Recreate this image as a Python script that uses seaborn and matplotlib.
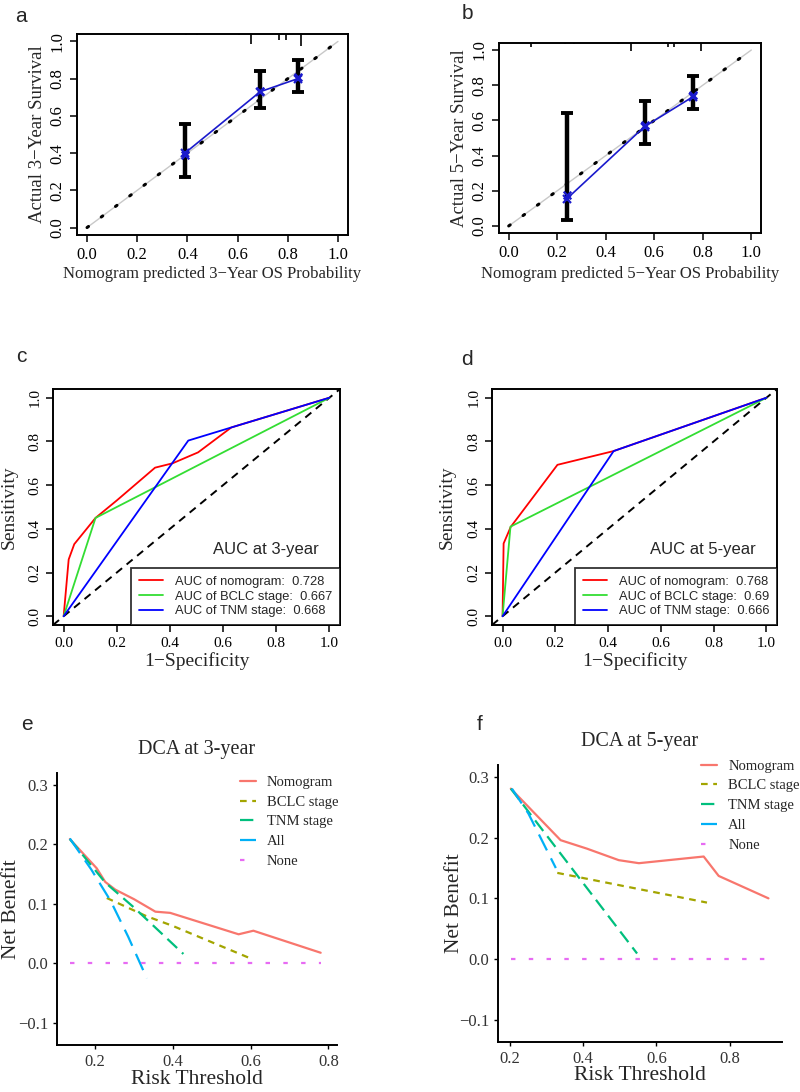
import matplotlib
matplotlib.use("Agg")
import matplotlib.pyplot as plt
import seaborn as sns

# ---- calibration curves (a: 3-year, b: 5-year)
cal3_pred = [0.39, 0.69, 0.84]
cal3_obs = [0.40, 0.73, 0.80]
cal3_corr = [0.39, 0.735, 0.81]
cal3_lo = [0.27, 0.64, 0.73]
cal3_hi = [0.555, 0.84, 0.90]
cal3_rug_x = [0.394, 0.44, 0.605, 0.653, 0.765, 0.793, 0.853]
cal3_rug_h = [0.008, 0.008, 0.008, 0.054, 0.032, 0.032, 0.065]

cal5_pred = [0.24, 0.56, 0.76]
cal5_obs = [0.155, 0.565, 0.735]
cal5_corr = [0.175, 0.575, 0.745]
cal5_lo = [0.035, 0.465, 0.665]
cal5_hi = [0.64, 0.71, 0.855]
cal5_rug_x = [0.09, 0.23, 0.27, 0.45, 0.506, 0.658, 0.683, 0.794]
cal5_rug_h = [0.023, 0.008, 0.008, 0.008, 0.045, 0.025, 0.025, 0.047]

# ---- ROC curves (c: 3-year, d: 5-year)
roc3_nom_fpr = [0, 0.019, 0.04, 0.12, 0.2, 0.344, 0.41, 0.506, 0.631, 1.0]
roc3_nom_tpr = [0, 0.26, 0.33, 0.45, 0.53, 0.68, 0.70, 0.75, 0.864, 1.0]
roc3_bclc_fpr = [0, 0.12, 1.0]
roc3_bclc_tpr = [0, 0.45, 1.0]
roc3_tnm_fpr = [0, 0.469, 0.631, 1.0]
roc3_tnm_tpr = [0, 0.804, 0.864, 1.0]
roc3_auc = ["0.728", "0.667", "0.668"]

roc5_nom_fpr = [0, 0.004, 0.031, 0.208, 0.421, 1.0]
roc5_nom_tpr = [0, 0.333, 0.409, 0.693, 0.756, 1.0]
roc5_bclc_fpr = [0, 0.03, 1.0]
roc5_bclc_tpr = [0, 0.41, 1.0]
roc5_tnm_fpr = [0, 0.421, 1.0]
roc5_tnm_tpr = [0, 0.756, 1.0]
roc5_auc = ["0.768", "0.69", "0.666"]

# ---- decision curves (e: 3-year, f: 5-year)
dca3_nom_x = [0.135, 0.204, 0.226, 0.252, 0.30, 0.355, 0.393, 0.569, 0.607, 0.78]
dca3_nom_y = [0.209, 0.160, 0.137, 0.124, 0.108, 0.087, 0.085, 0.049, 0.055, 0.018]
dca3_bclc_x = [0.23, 0.33, 0.40, 0.594]
dca3_bclc_y = [0.11, 0.08, 0.063, 0.01]
dca3_tnm_x = [0.135, 0.226, 0.30, 0.427]
dca3_tnm_y = [0.209, 0.136, 0.094, 0.016]
dca3_all_x = [0.135, 0.19, 0.24, 0.285, 0.333]
dca3_all_y = [0.21, 0.158, 0.105, 0.045, -0.025]
dca3_none_x = [0.135, 0.78]
dca3_none_y = [0.0, 0.0]

dca5_nom_x = [0.202, 0.338, 0.41, 0.497, 0.552, 0.729, 0.77, 0.906]
dca5_nom_y = [0.281, 0.196, 0.182, 0.163, 0.158, 0.169, 0.137, 0.100]
dca5_bclc_x = [0.329, 0.738]
dca5_bclc_y = [0.142, 0.093]
dca5_tnm_x = [0.202, 0.547]
dca5_tnm_y = [0.281, 0.009]
dca5_all_x = [0.205, 0.25, 0.30, 0.325]
dca5_all_y = [0.281, 0.24, 0.18, 0.15]
dca5_none_x = [0.202, 0.906]
dca5_none_y = [0.0, 0.0]

dca_labels = ["Nomogram", "BCLC stage", "TNM stage", "All", "None"]
dca_colors = ["#F8766D", "#A3A500", "#00BF7D", "#00B0F6", "#E76BF3"]
dca_styles = ["-", (0, (3, 2.5)), (0, (6, 3)), (0, (8, 4)), (0, (2, 6))]

roc_labels = ["AUC of nomogram", "AUC of BCLC stage", "AUC of TNM stage"]
roc_colors = ["#FF0000", "#33DD33", "#0000FF"]

sns.set_theme(style="ticks")
SERIF = ["Liberation Serif", "DejaVu Serif"]
SANS = ["Liberation Sans", "DejaVu Sans"]
plt.rcParams["font.family"] = SERIF
plt.rcParams["axes.linewidth"] = 1.4
plt.rcParams["axes.edgecolor"] = "black"

W, H = 800, 1092
fig = plt.figure(figsize=(8, 10.92), dpi=100)


def box(l, t, r, b):
    return fig.add_axes([l / W, 1 - b / H, (r - l) / W, (b - t) / H])


def fmt_ticks(ax, size):
    ax.tick_params(direction="out", length=5, width=1.1, labelsize=size, colors="black")
    for lab in ax.get_yticklabels():
        lab.set_rotation(90)
        lab.set_va("center")


def calib(ax, pred, obs, corr, lo, hi, rug_x, rug_h, yr, xl, yl):
    ax.plot([0, 1], [0, 1], color="#C8C8C8", lw=1.0)
    ax.plot([0, 1], [0, 1], color="black", lw=2.2, ls=(0, (0.6, 5.2)), dash_capstyle="round")
    ax.errorbar(pred, obs, yerr=[[o - l for o, l in zip(obs, lo)], [h - o for o, h in zip(obs, hi)]],
                fmt="none", ecolor="black", elinewidth=3.2, capsize=4, capthick=2.8)
    sns.lineplot(x=pred, y=obs, ax=ax, color="#1A1ACC", lw=1.2, marker="x", markersize=6,
                 markeredgewidth=1.6, markeredgecolor="#1A1ACC")
    ax.scatter(pred, corr, marker="x", s=30, color="#1A1ACC", lw=1.6, zorder=5)
    ax.vlines(rug_x, [1.04 - h for h in rug_h], 1.04, color="black", lw=1.2)
    ax.set_xlim(-0.04, 1.04)
    ax.set_ylim(-0.04, 1.04)
    ticks = [0, 0.2, 0.4, 0.6, 0.8, 1.0]
    ax.set_xticks(ticks, [f"{t:.1f}" for t in ticks])
    ax.set_yticks(ticks, [f"{t:.1f}" for t in ticks])
    fmt_ticks(ax, 12)
    ax.set_xlabel(f"Nomogram predicted {yr}\u2212Year OS Probability", fontsize=12)
    ax.set_ylabel(f"Actual {yr}\u2212Year Survival", fontsize=13.5)
    ax.xaxis.set_label_coords(0.5, xl)
    ax.yaxis.set_label_coords(yl, 0.5)


def roc(ax, curves, aucs, yr, yl):
    ax.axline((0, 0), (1, 1), color="black", lw=1.4, ls=(0, (4, 3)))
    for (fx, ty), lab, col, auc in zip(curves, roc_labels, roc_colors, aucs):
        sns.lineplot(x=fx, y=ty, ax=ax, color=col, lw=1.3, sort=False, estimator=None,
                     label=f"{lab}:  {auc}")
    ax.set_xlim(-0.04, 1.04)
    ax.set_ylim(-0.04, 1.04)
    ticks = [0, 0.2, 0.4, 0.6, 0.8, 1.0]
    ax.set_xticks(ticks, [f"{t:.1f}" for t in ticks])
    ax.set_yticks(ticks, [f"{t:.1f}" for t in ticks])
    fmt_ticks(ax, 11)
    ax.set_xlabel("1\u2212Specificity", fontsize=14)
    ax.set_ylabel("Sensitivity", fontsize=14)
    ax.xaxis.set_label_coords(0.5, -0.115)
    ax.yaxis.set_label_coords(yl, 0.5)
    leg = ax.legend(loc="lower right", borderaxespad=0, frameon=True, fancybox=False,
                    edgecolor="black", prop={"family": SANS, "size": 9.3}, handlelength=1.9,
                    handletextpad=0.9, labelspacing=0.2, borderpad=0.6)
    leg.get_frame().set_linewidth(1.3)
    ax.text(0.74, 0.32, f"AUC at {yr}-year", transform=ax.transAxes, ha="center", va="center",
            family=SANS, fontsize=12)


def dca(ax, series, xlim, yr, leg_anchor, xl, yl):
    for (xs, ys), lab, col, ls in zip(series, dca_labels, dca_colors, dca_styles):
        sns.lineplot(x=xs, y=ys, ax=ax, color=col, lw=1.6, linestyle=ls, sort=False,
                     estimator=None, label=lab)
    sns.despine(ax=ax)
    ax.set_xlim(*xlim)
    ax.set_ylim(-0.137, 0.32)
    xticks = [0.2, 0.4, 0.6, 0.8]
    ax.set_xticks(xticks, [f"{t:.1f}" for t in xticks])
    ax.set_yticks([-0.1, 0.0, 0.1, 0.2, 0.3], ["\u22120.1", "0.0", "0.1", "0.2", "0.3"])
    ax.tick_params(direction="out", length=3, width=1, labelsize=12, colors="black")
    ax.tick_params(labelcolor="#333333")
    ax.set_xlabel("Risk Threshold", fontsize=15.5)
    ax.set_ylabel("Net Benefit", fontsize=15.5)
    ax.xaxis.set_label_coords(0.5, xl)
    ax.yaxis.set_label_coords(yl, 0.5)
    ax.set_title(f"DCA at {yr}-year", fontsize=14.5, pad=14)
    ax.legend(loc="upper left", bbox_to_anchor=leg_anchor, frameon=False, fontsize=10.5,
              handlelength=1.1, handletextpad=0.75, labelspacing=0.45, borderaxespad=0, borderpad=0)


ax_a = box(77, 34, 348, 235)
calib(ax_a, cal3_pred, cal3_obs, cal3_corr, cal3_lo, cal3_hi, cal3_rug_x, cal3_rug_h, 3, -0.154, -0.114)
ax_b = box(499, 43, 761, 233)
calib(ax_b, cal5_pred, cal5_obs, cal5_corr, cal5_lo, cal5_hi, cal5_rug_x, cal5_rug_h, 5, -0.174, -0.118)

ax_c = box(53, 389, 340, 625)
roc(ax_c, [(roc3_nom_fpr, roc3_nom_tpr), (roc3_bclc_fpr, roc3_bclc_tpr), (roc3_tnm_fpr, roc3_tnm_tpr)],
    roc3_auc, 3, -0.122)
ax_d = box(492, 389, 777, 625)
roc(ax_d, [(roc5_nom_fpr, roc5_nom_tpr), (roc5_bclc_fpr, roc5_bclc_tpr), (roc5_tnm_fpr, roc5_tnm_tpr)],
    roc5_auc, 5, -0.126)

ax_e = box(57, 773, 337, 1045)
dca(ax_e, [(dca3_nom_x, dca3_nom_y), (dca3_bclc_x, dca3_bclc_y), (dca3_tnm_x, dca3_tnm_y),
           (dca3_all_x, dca3_all_y), (dca3_none_x, dca3_none_y)],
    (0.102, 0.822), 3, (0.654, 0.99), -0.092, -0.13)
ax_f = box(498, 765, 782, 1042)
dca(ax_f, [(dca5_nom_x, dca5_nom_y), (dca5_bclc_x, dca5_bclc_y), (dca5_tnm_x, dca5_tnm_y),
           (dca5_all_x, dca5_all_y), (dca5_none_x, dca5_none_y)],
    (0.167, 0.943), 5, (0.716, 1.02), -0.087, -0.118)

# panel letters
for letter, x, y in [("a", 21, 22), ("b", 467, 19), ("c", 21, 362),
                     ("d", 467, 365), ("e", 27, 730), ("f", 480, 730)]:
    fig.text(x / W, 1 - y / H, letter, ha="center", va="baseline", family=SANS, fontsize=15)

fig.savefig("out.png", dpi=100)
